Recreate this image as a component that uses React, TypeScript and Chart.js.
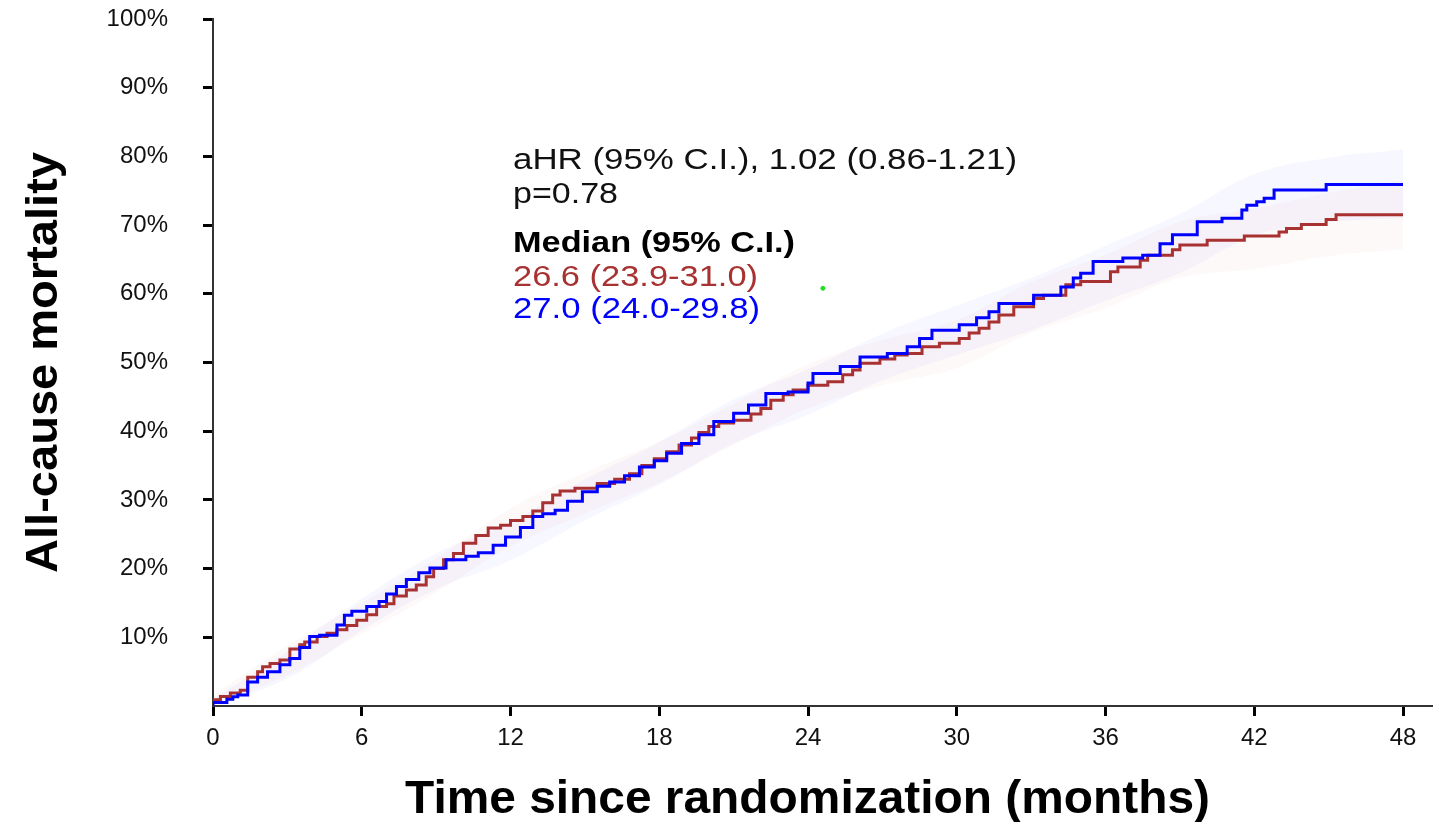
import React, { useEffect, useRef } from "react";
import { Chart, registerables } from "chart.js";

Chart.register(...registerables);

// ---------- data ----------
const redTime = [0, 0.3, 0.7, 1.1, 1.4, 1.8, 2.0, 2.3, 2.7, 3.1, 3.5, 3.7, 4.2, 4.6, 5.0, 5.4, 5.8, 6.2, 6.6, 7.0, 7.3, 7.8, 8.2, 8.6, 8.9, 9.3, 9.7, 10.1, 10.6, 11.1, 11.6, 12.0, 12.5, 12.9, 13.3, 13.7, 14.0, 14.6, 15.5, 16.2, 16.8, 17.3, 17.8, 18.3, 18.8, 19.3, 19.6, 20.0, 20.4, 21.0, 21.7, 22.1, 22.5, 23.0, 23.4, 24.0, 24.8, 25.4, 25.8, 26.1, 26.9, 27.5, 28.0, 28.6, 29.3, 30.1, 30.5, 30.9, 31.3, 31.7, 32.3, 33.1, 33.5, 34.4, 35.0, 36.2, 36.5, 37.4, 37.7, 38.7, 39.0, 40.1, 41.6, 43.0, 43.3, 43.9, 44.9, 45.3, 46.8, 48.0];
const redMortality = [0.6, 0.9, 1.4, 1.9, 2.3, 4.2, 5.0, 5.7, 6.2, 6.7, 8.3, 8.9, 9.3, 10.1, 10.6, 11.1, 11.7, 12.5, 13.3, 14.5, 14.9, 16.0, 16.9, 17.6, 18.8, 20.0, 21.3, 22.2, 23.7, 24.8, 25.9, 26.3, 27.0, 27.6, 28.4, 29.6, 30.7, 31.3, 31.7, 32.4, 33.0, 33.8, 35.0, 36.0, 37.0, 38.0, 39.0, 39.8, 40.7, 41.2, 41.6, 42.5, 43.3, 44.5, 45.3, 46.0, 46.7, 47.2, 48.2, 48.9, 49.9, 50.5, 51.1, 51.3, 52.3, 52.8, 53.5, 54.3, 55.0, 55.9, 56.9, 58.1, 59.3, 59.8, 61.3, 61.8, 63.2, 63.9, 64.9, 65.6, 66.4, 67.1, 67.8, 68.4, 69.0, 69.5, 70.1, 70.8, 71.5, 71.5];

const blueTime = [0, 0.56, 0.8, 1.0, 1.4, 1.8, 2.2, 2.7, 3.1, 3.5, 3.9, 4.3, 5.0, 5.3, 5.6, 6.2, 6.7, 7.0, 7.4, 7.8, 8.3, 8.75, 9.4, 10.2, 10.7, 11.3, 11.8, 12.4, 12.9, 13.3, 13.8, 14.3, 14.9, 15.5, 16.0, 16.6, 17.2, 17.8, 18.3, 18.9, 19.6, 20.2, 21.0, 21.6, 22.3, 23.2, 24.0, 24.2, 25.3, 26.1, 27.2, 28.0, 28.5, 29.0, 30.1, 30.8, 31.3, 31.7, 33.1, 34.2, 34.7, 35.0, 35.5, 36.7, 37.5, 38.2, 38.7, 39.7, 40.7, 41.5, 41.7, 42.1, 42.4, 42.8, 44.9, 46.2, 48.0];
const blueMortality = [0, 0.5, 1.0, 1.35, 1.6, 3.5, 4.2, 5.0, 6.0, 6.9, 8.5, 10.1, 10.3, 11.8, 13.2, 13.8, 14.5, 15.2, 16.3, 17.4, 18.4, 19.4, 20.1, 21.3, 21.8, 22.3, 23.4, 24.6, 26.0, 27.6, 28.0, 28.5, 29.8, 31.2, 32.0, 32.6, 33.5, 34.8, 35.7, 36.8, 38.2, 39.5, 41.4, 42.6, 43.8, 45.5, 45.7, 47.0, 48.4, 49.4, 50.8, 51.3, 52.3, 53.5, 54.7, 55.5, 56.5, 57.4, 58.6, 59.8, 61.0, 62.3, 63.0, 64.7, 65.2, 65.6, 67.3, 68.6, 70.5, 71.0, 72.2, 72.9, 73.4, 73.9, 75.1, 75.9, 75.9];

const bandTime = [0, 3, 6, 9, 12, 15, 18, 21, 24, 27, 30, 33, 36, 39, 42, 45, 48];
const redUpper = [1.5, 8.8, 15, 21.5, 28.8, 34, 38.5, 44, 49.7, 53.3, 56.2, 61.7, 65.7, 70.5, 72.4, 74.7, 76.5];
const redLower = [0, 4.5, 10.5, 16.5, 23.2, 28, 32.5, 38, 43.3, 46.7, 49.2, 54.3, 57.9, 62.3, 63.6, 65.5, 66.5];
const blueUpper = [1, 8, 15.6, 22.2, 26.8, 33, 38.4, 44.6, 49, 54.2, 58.3, 62.3, 67, 71.6, 77.4, 79.8, 81];
const blueLower = [0, 4, 11, 17, 21.2, 27, 32.2, 38.2, 42.4, 47.4, 51.1, 54.7, 59, 63, 68.4, 70.4, 71];

const markerPoint = [{ x: 24.6, y: 60.8 }];

const xTicks = [0, 6, 12, 18, 24, 30, 36, 42, 48];
const yTicks = [0, 10, 20, 30, 40, 50, 60, 70, 80, 90, 100];
const yTickLabels = ["", "10%", "20%", "30%", "40%", "50%", "60%", "70%", "80%", "90%", "100%"];

const xTitle = "Time since randomization (months)";
const yTitle = "All-cause mortality";
const annotationLines = [
  { text: "aHR (95% C.I.), 1.02 (0.86-1.21)", color: "#111111", bold: false },
  { text: "p=0.78", color: "#111111", bold: false },
  { text: "Median (95% C.I.)", color: "#000000", bold: true },
  { text: "26.6 (23.9-31.0)", color: "#A83232", bold: false },
  { text: "27.0 (24.0-29.8)", color: "#0000FF", bold: false },
];

// ---------- layout (positions/sizes) ----------
const FONT = "'Liberation Sans', Arial, Helvetica, sans-serif";
const annotationLayout = [
  { baseline: 169, width: 504 },
  { baseline: 203, width: 105 },
  { baseline: 252, width: 282 },
  { baseline: 286, width: 245 },
  { baseline: 318, width: 247 },
];

const zip = (xs: number[], ys: number[]) => xs.map((x, i) => ({ x, y: ys[i] }));

const textPlugin = {
  id: "customText",
  afterDraw(chart: any) {
    const ctx = chart.ctx as CanvasRenderingContext2D;
    ctx.save();
    annotationLines.forEach((line, i) => {
      const lay = annotationLayout[i];
      ctx.font = `${line.bold ? "bold " : ""}29px ${FONT}`;
      ctx.fillStyle = line.color;
      ctx.textAlign = "left";
      ctx.textBaseline = "alphabetic";
      const w = ctx.measureText(line.text).width;
      ctx.save();
      ctx.translate(513, lay.baseline);
      ctx.scale(lay.width / w, 1);
      ctx.fillText(line.text, 0, 0);
      ctx.restore();
    });
    ctx.font = `bold 47px ${FONT}`;
    ctx.fillStyle = "#000";
    ctx.textAlign = "center";
    ctx.textBaseline = "alphabetic";
    {
      const w = ctx.measureText(xTitle).width;
      ctx.save();
      ctx.translate(807.5, 813);
      ctx.scale(805 / w, 1);
      ctx.fillText(xTitle, 0, 0);
      ctx.restore();
    }
    ctx.font = `bold 44px ${FONT}`;
    {
      const w = ctx.measureText(yTitle).width;
      ctx.save();
      ctx.translate(57, 362.5);
      ctx.rotate(-Math.PI / 2);
      ctx.scale(421 / w, 1);
      ctx.fillText(yTitle, 0, 0);
      ctx.restore();
    }
    ctx.restore();
  },
};

const zeroPadding = (s: any) => {
  s.paddingTop = 0;
  s.paddingBottom = 0;
  s.paddingLeft = 0;
  s.paddingRight = 0;
};

export default function App() {
  const canvasRef = useRef<HTMLCanvasElement | null>(null);

  useEffect(() => {
    document.body.style.margin = "0";
    const canvas = canvasRef.current;
    if (!canvas) return;
    const bandLine = {
      borderWidth: 0,
      borderColor: "rgba(0,0,0,0)",
      pointRadius: 0,
      pointHoverRadius: 0,
      tension: 0.4,
    };
    const chart = new Chart(canvas, {
      type: "line",
      data: {
        datasets: [
          {
            label: "blue",
            data: zip(blueTime, blueMortality),
            borderColor: "#0000FF",
            borderWidth: 3,
            stepped: "after",
            pointRadius: 0,
            pointHoverRadius: 0,
            fill: false,
            order: 0,
          },
          {
            label: "red",
            data: zip(redTime, redMortality),
            borderColor: "#A83232",
            borderWidth: 3,
            stepped: "after",
            pointRadius: 0,
            pointHoverRadius: 0,
            fill: false,
            order: 1,
          },
          {
            label: "blueUpper",
            data: zip(bandTime, blueUpper),
            ...bandLine,
            backgroundColor: "rgba(60,60,255,0.045)",
            fill: { target: 3 },
            order: 3,
          },
          {
            label: "blueLower",
            data: zip(bandTime, blueLower),
            ...bandLine,
            fill: false,
            order: 3,
          },
          {
            label: "redUpper",
            data: zip(bandTime, redUpper),
            ...bandLine,
            backgroundColor: "rgba(220,60,60,0.03)",
            fill: { target: 5 },
            order: 4,
          },
          {
            label: "redLower",
            data: zip(bandTime, redLower),
            ...bandLine,
            fill: false,
            order: 4,
          },
          {
            type: "scatter",
            label: "marker",
            data: markerPoint,
            backgroundColor: "#22DD22",
            borderColor: "#22DD22",
            pointRadius: 2,
            pointHoverRadius: 2,
            order: 0,
          } as any,
        ],
      },
      options: {
        animation: false,
        responsive: true,
        maintainAspectRatio: false,
        layout: { autoPadding: false, padding: { top: 19, right: 0, left: 0, bottom: 0 } },
        plugins: { legend: { display: false }, tooltip: { enabled: false } },
        scales: {
          x: {
            type: "linear",
            min: 0,
            max: 49.21,
            afterBuildTicks: (s: any) => {
              s.ticks = xTicks.map((v) => ({ value: v }));
            },
            afterFit: (s: any) => {
              s.height = 116;
              zeroPadding(s);
            },
            grid: {
              drawOnChartArea: false,
              drawTicks: true,
              tickLength: 10,
              tickWidth: 3,
              tickColor: "#000",
            },
            border: { display: true, color: "#333", width: 2 },
            ticks: {
              font: { family: FONT, size: 24 },
              color: "#111",
              padding: 8,
              maxRotation: 0,
              autoSkip: false,
              callback: (v: any) => String(v),
            },
          },
          y: {
            type: "linear",
            min: 0,
            max: 100,
            afterBuildTicks: (s: any) => {
              s.ticks = yTicks.map((v) => ({ value: v }));
            },
            afterFit: (s: any) => {
              s.width = 213;
              zeroPadding(s);
            },
            grid: {
              drawOnChartArea: false,
              drawTicks: true,
              tickLength: 10,
              tickWidth: 3,
              tickColor: (c: any) => (c.tick && c.tick.value === 0 ? "rgba(0,0,0,0)" : "#000"),
            },
            border: { display: true, color: "#333", width: 2 },
            ticks: {
              font: { family: FONT, size: 24 },
              color: "#111",
              padding: 35,
              autoSkip: false,
              callback: (v: any) => {
                const i = yTicks.indexOf(Number(v));
                return i >= 0 ? yTickLabels[i] : "";
              },
            },
          },
        },
      },
      plugins: [textPlugin],
    } as any);
    return () => chart.destroy();
  }, []);

  return (
    <div style={{ position: "fixed", left: 0, top: 0, width: 1433, height: 822, background: "#fff" }}>
      <canvas ref={canvasRef} />
    </div>
  );
}
